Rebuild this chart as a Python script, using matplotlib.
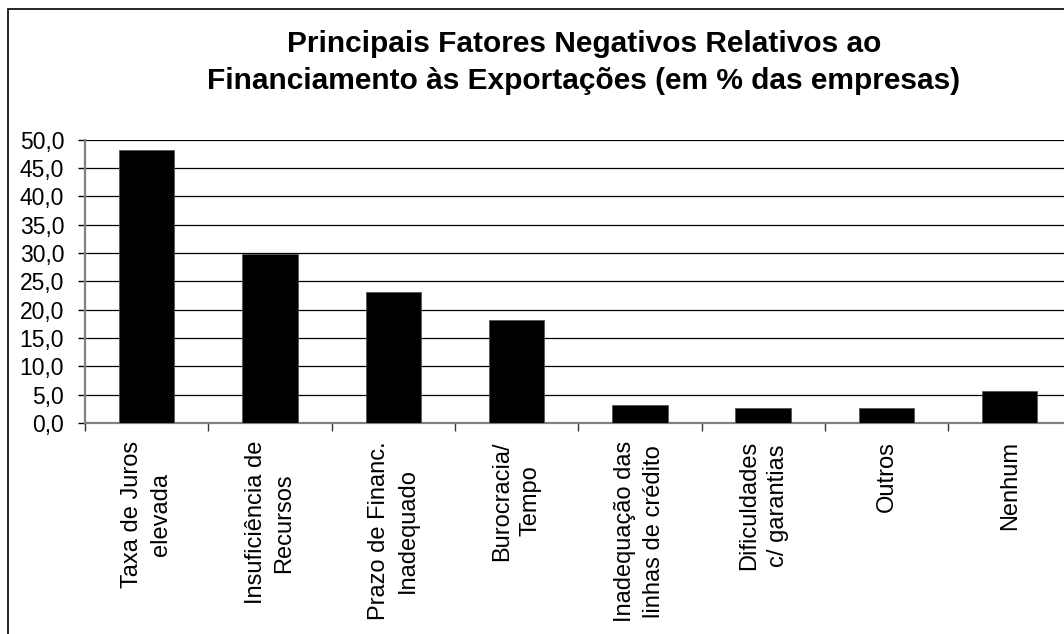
import matplotlib
matplotlib.use("Agg")
import matplotlib.pyplot as plt
from matplotlib.patches import Rectangle
import numpy as np

categorias = ["Taxa de Juros\nelevada", "Insuficiência de\nRecursos", "Prazo de Financ.\nInadequado",
              "Burocracia/\nTempo", "Inadequação das\nlinhas de crédito", "Dificuldades\nc/ garantias",
              "Outros", "Nenhum"]
valores = [48.1, 29.8, 23.1, 18.1, 3.1, 2.7, 2.7, 5.6]
yticks = [0, 5, 10, 15, 20, 25, 30, 35, 40, 45, 50]

plt.rcParams['font.family'] = ['Liberation Sans', 'DejaVu Sans']

fig = plt.figure(figsize=(10.64, 6.34), dpi=100)
# moldura do grafico (corta na direita e em baixo)
fig.patches.append(Rectangle((8 / 1064, -0.1), 1.2, 1 - 9 / 634 + 0.1, transform=fig.transFigure,
                             fill=False, edgecolor='black', linewidth=1.2))

ax = fig.add_axes([85 / 1064, 0.3328, 8 * 123.3 / 1064, 0.4468])
x = np.arange(len(categorias))
ax.bar(x, valores, width=0.45, color='black', edgecolor='#555555', linewidth=0.6, zorder=3)

ax.set_xlim(-0.5, len(categorias) - 0.5)
ax.set_ylim(0, 50)
ax.set_yticks(yticks)
ax.set_yticklabels([f"{v:.1f}".replace('.', ',') for v in yticks], fontsize=16.5)
ax.yaxis.grid(True, color='black', linewidth=0.9, zorder=0)
ax.set_axisbelow(True)

ax.set_xticks(x)
ax.set_xticklabels(categorias, rotation=90, fontsize=17, ha='center', va='top', multialignment='center',
                   linespacing=1.4)
ax.set_xticks(np.arange(len(categorias) + 1) - 0.5, minor=True)
ax.tick_params(axis='x', which='major', length=0, pad=13)
ax.tick_params(axis='x', which='minor', length=6, width=1, color='#333333', direction='out')
ax.tick_params(axis='y', length=5, width=1, color='black', pad=10)

for s in ['top', 'right']:
    ax.spines[s].set_visible(False)
for s in ['left', 'bottom']:
    ax.spines[s].set_color('#808080')
    ax.spines[s].set_linewidth(1.6)

fig.text(584 / 1064, 0.952, "Principais Fatores Negativos Relativos ao\nFinanciamento às Exportações (em % das empresas)",
         ha='center', va='top', fontsize=21.5, fontweight='bold', linespacing=1.4)

fig.savefig("out.png", dpi=100)
